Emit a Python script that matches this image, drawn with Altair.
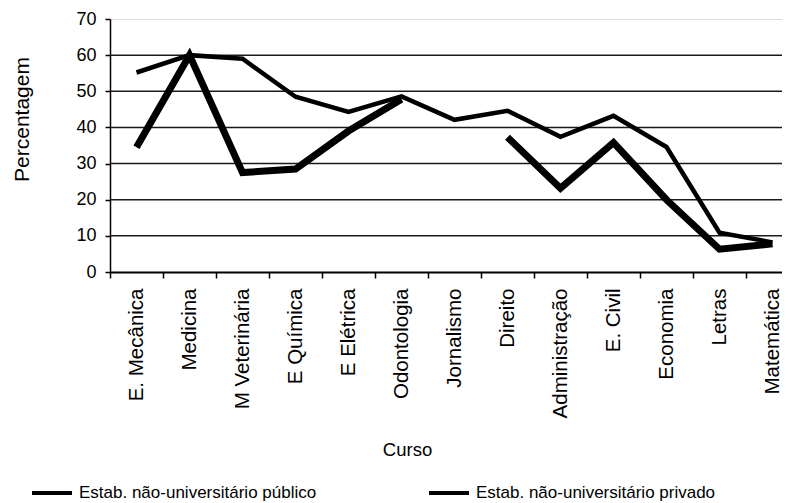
import altair as alt
import pandas as pd

cursos = ["E. Mecânica", "Medicina", "M Veterinária", "E Química", "E Elétrica",
          "Odontologia", "Jornalismo", "Direito", "Administração", "E. Civil",
          "Economia", "Letras", "Matemática"]
publico = [34.5, 60, 27.5, 28.5, 39, 47.8, None, 37.3, 23.2, 35.8, 20.0, 6.3, 7.8]
privado = [55.2, 60, 59, 48.5, 44.3, 48.6, 42.1, 44.6, 37.4, 43.2, 34.6, 10.9, 8.2]
serie_pub = "Estab. não-universitário público"
serie_priv = "Estab. não-universitário privado"
grid_values = [10, 20, 30, 40, 50, 60]
y_ticks = [0, 10, 20, 30, 40, 50, 60, 70]

rows = []
for c, v in zip(cursos, publico):
    rows.append({"Curso": c, "valor": v, "serie": serie_pub, "peso": "grossa"})
for c, v in zip(cursos, privado):
    rows.append({"Curso": c, "valor": v, "serie": serie_priv, "peso": "fina"})
df = pd.DataFrame(rows)
grid_df = pd.DataFrame({"valor": grid_values})

FONT = "Liberation Sans"

yscale = alt.Scale(domain=[0, 70], nice=False, zero=True)
yaxis = alt.Axis(values=y_ticks, labelFontSize=18, labelFont=FONT,
                 labelColor="black", tickSize=5, tickColor="black",
                 tickWidth=1.5, labelPadding=9, domainColor="black",
                 domainWidth=1.5, grid=False,
                 titleFont=FONT, titleFontSize=21, titleFontWeight="normal",
                 titleColor="black", titleX=-88, titleY=100,
                 titleAlign="center", titleBaseline="middle")

grid = alt.Chart(grid_df).mark_rule(color="#1a1a1a", strokeWidth=1.5).encode(
    y=alt.Y("valor:Q", scale=yscale, title="Percentagem", axis=yaxis)
)

lines = alt.Chart(df).mark_line(invalid="break-paths-show-domains").encode(
    x=alt.X("Curso:N", sort=cursos, title="Curso",
            axis=alt.Axis(labelAngle=-90, labelFontSize=20.5, labelFont=FONT,
                          labelColor="black", tickBand="extent", tickSize=6,
                          tickColor="black", tickWidth=1.5, labelPadding=10,
                          domainColor="black", domainWidth=2,
                          titleFont=FONT, titleFontSize=18.5, titleFontWeight="normal",
                          titleColor="black", titleX=297, titleY=183,
                          titleAlign="center", titleBaseline="alphabetic",
                          labelLimit=300)),
    y=alt.Y("valor:Q", scale=yscale, title="Percentagem", axis=yaxis),
    color=alt.Color("serie:N",
                    scale=alt.Scale(domain=[serie_pub, serie_priv], range=["black", "black"]),
                    legend=alt.Legend(title=None, orient="none", legendX=-80, legendY=452,
                                      direction="horizontal", columns=2,
                                      symbolType="stroke", symbolSize=1600,
                                      symbolStrokeWidth=4, symbolStrokeColor="black",
                                      labelFont=FONT, labelFontSize=17, labelColor="black",
                                      labelOffset=5, columnPadding=104, labelLimit=400)),
    strokeWidth=alt.StrokeWidth("peso:N",
                                scale=alt.Scale(domain=["grossa", "fina"], range=[7, 4.5]),
                                legend=None),
)

chart = alt.layer(grid, lines).properties(
    width=689, height=253,
    autosize=alt.AutoSizeParams(type="none"),
    padding={"left": 102, "top": 11, "right": -17, "bottom": 231},
).configure_view(stroke=None).configure(background="white")

chart.save("out.html", embed_options={"renderer": "svg", "actions": False})
